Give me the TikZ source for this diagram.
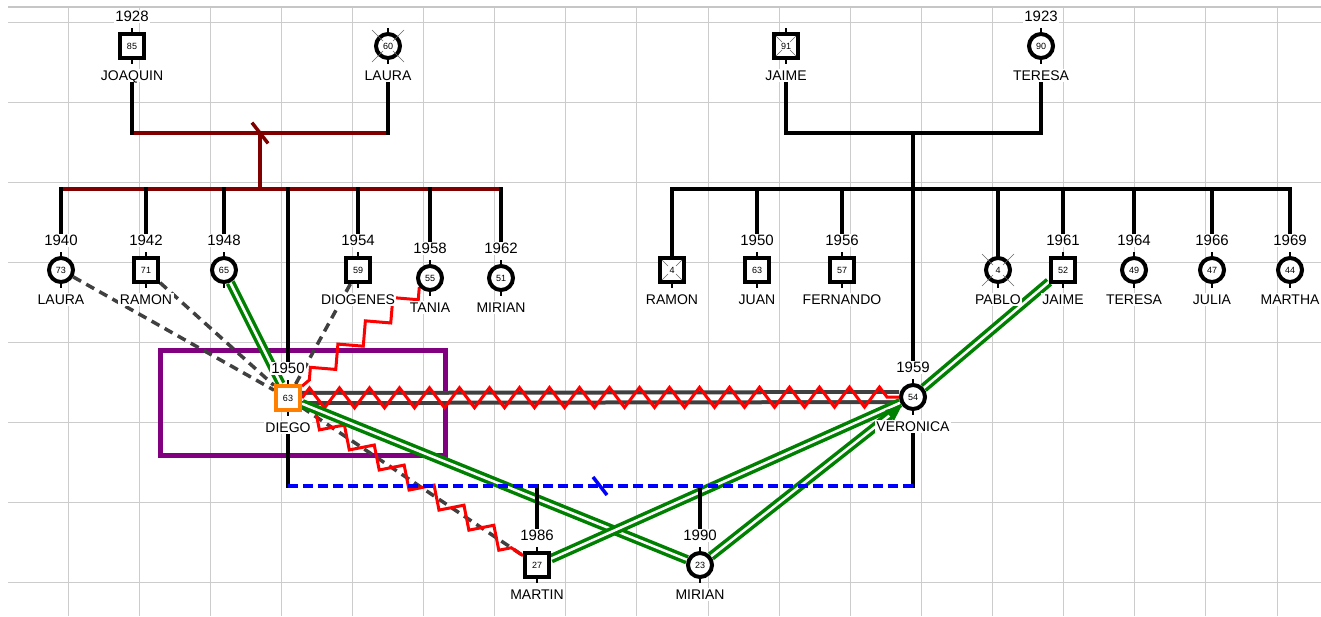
\documentclass[tikz,border=0pt]{standalone}
\usepackage{fontspec}
\usepackage{tikz}
\usetikzlibrary{backgrounds}
\usetikzlibrary{decorations.pathmorphing}
\usetikzlibrary{arrows.meta}
\newfontfamily\lblfont{Liberation Sans}
\definecolor{maroon}{RGB}{128,0,0}
\definecolor{darkgreen}{RGB}{0,128,0}
\definecolor{relgray}{RGB}{64,64,64}
\definecolor{purp}{RGB}{128,0,128}

\begin{document}
\begin{tikzpicture}[x=1pt, y=-1pt, label distance=8.5pt,
    male/.style={draw, rectangle, line width=4pt, fill=white, minimum size=24pt, inner sep=0pt, font=\lblfont\fontsize{9}{9}\selectfont},
    female/.style={male, circle},
    yr/.style={fill=white, inner sep=1.5pt, text height=10.5pt, text depth=0pt, font=\lblfont\fontsize{15}{15}\selectfont},
    nm/.style={yr, font=\lblfont\fontsize{14}{14}\selectfont},
    stub/.style={line width=2.5pt},
    deadx/.style={draw=black!60, line width=0.6pt},
    gridline/.style={draw=gray!40, line width=1pt},
    fam/.style={line width=4pt, line cap=rect},
    famm/.style={fam, draw=maroon},
    sepline/.style={draw=blue, line width=3.5pt, dash pattern=on 10pt off 5pt},
    slash/.style={line width=3.5pt},
    close/.style={draw=darkgreen, double=white, line width=3.5pt, double distance=2.5pt},
    distant/.style={draw=relgray, line width=3.5pt, dash pattern=on 9pt off 6pt},
    conflict/.style={draw=relgray, double=white, line width=4pt, double distance=6pt},
    hostile/.style={draw=red, line width=3pt, decorate, decoration={zigzag, segment length=30pt, amplitude=10pt}},
    hostilestep/.style={draw=red, line width=3pt, decorate, decoration={zigzag, segment length=36pt, amplitude=9pt}}]
    \useasboundingbox (0,0) rectangle (1321,616);

    % grandparents
    \node[male, label={[yr,name=joaquin-y]above:1928}, label={[nm,name=joaquin-n]below:JOAQUIN}] (joaquin) at (132,46) {85};
    \node[female, label={[nm,name=lauraG-n]below:LAURA}] (lauraG) at (388,46) {60};
    \node[male, label={[nm,name=jaimeG-n]below:JAIME}] (jaimeG) at (786,46) {91};
    \node[female, label={[yr,name=teresaG-y]above:1923}, label={[nm,name=teresaG-n]below:TERESA}] (teresaG) at (1041,46) {90};

    % children of joaquin and laura
    \node[female, label={[yr,name=laura-y]above:1940}, label={[nm,name=laura-n]below:LAURA}] (laura) at (61,270) {73};
    \node[male, label={[yr,name=ramon-y]above:1942}, label={[nm,name=ramon-n]below:RAMON}] (ramon) at (146,270) {71};
    \node[female, label={[yr,name=sib65-y]above:1948}] (sib65) at (224,270) {65};
    \node[male, draw=orange, label={[yr,name=diego-y]above:1950}, label={[nm,name=diego-n]below:DIEGO}] (diego) at (288,398) {63};
    \node[male, label={[yr,name=diogenes-y]above:1954}, label={[nm,name=diogenes-n]below:DIOGENES}] (diogenes) at (358,270) {59};
    \node[female, label={[yr,name=tania-y]above:1958}, label={[nm,name=tania-n]below:TANIA}] (tania) at (430,278) {55};
    \node[female, label={[yr,name=mirianT-y]above:1962}, label={[nm,name=mirianT-n]below:MIRIAN}] (mirianT) at (501,278) {51};

    % children of jaime and teresa
    \node[male, label={[nm,name=ramonV-n]below:RAMON}] (ramonV) at (672,270) {4};
    \node[male, label={[yr,name=juan-y]above:1950}, label={[nm,name=juan-n]below:JUAN}] (juan) at (757,270) {63};
    \node[male, label={[yr,name=fernando-y]above:1956}, label={[nm,name=fernando-n]below:FERNANDO}] (fernando) at (842,270) {57};
    \node[female, label={[yr,name=veronica-y]above:1959}, label={[nm,name=veronica-n]below:VERONICA}] (veronica) at (913,397) {54};
    \node[female, label={[nm,name=pablo-n]below:PABLO}] (pablo) at (998,270) {4};
    \node[male, label={[yr,name=jaime-y]above:1961}, label={[nm,name=jaime-n]below:JAIME}] (jaime) at (1063,270) {52};
    \node[female, label={[yr,name=teresa-y]above:1964}, label={[nm,name=teresa-n]below:TERESA}] (teresa) at (1134,270) {49};
    \node[female, label={[yr,name=julia-y]above:1966}, label={[nm,name=julia-n]below:JULIA}] (julia) at (1212,270) {47};
    \node[female, label={[yr,name=martha-y]above:1969}, label={[nm,name=martha-n]below:MARTHA}] (martha) at (1290,270) {44};

    % children of diego and veronica
    \node[male, label={[yr,name=martin-y]above:1986}, label={[nm,name=martin-n]below:MARTIN}] (martin) at (537,565) {27};
    \node[female, label={[yr,name=mirian-y]above:1990}, label={[nm,name=mirian-n]below:MIRIAN}] (mirian) at (700,565) {23};

    \foreach \p in {joaquin,lauraG,jaimeG,teresaG,laura,ramon,sib65,diego,diogenes,tania,mirianT,ramonV,juan,fernando,veronica,pablo,jaime,teresa,julia,martha,martin,mirian}
        \draw[stub] (\p.north) -- ++(0,-4) (\p.south) -- ++(0,4);
    \foreach \p in {lauraG,pablo}
        \foreach \sx/\sy in {1/1,1/-1,-1/1,-1/-1}
            \draw[deadx] (\p) ++(5*\sx,5*\sy) -- ++(11*\sx,11*\sy);
    \foreach \p in {jaimeG,ramonV}
        \foreach \sx/\sy in {1/1,1/-1,-1/1,-1/-1}
            \draw[deadx] (\p) ++(4*\sx,4*\sy) -- ++(6*\sx,6*\sy);

    \begin{scope}[on background layer]
        \fill[white] (0,0) rectangle (1321,616);
        \foreach \k in {0,...,17} \draw[gridline] (68+71.12*\k,8) -- (68+71.12*\k,616);
        \foreach \k in {0,...,7} \draw[gridline] (8,22+80.14*\k) -- (1321,22+80.14*\k);
        \draw[gray!45, line width=2pt] (8,7) -- (1321,7);
        \draw[purp, line width=5pt] (160,350) rectangle (445,455);

        % relations
        \draw[conflict] (diego) -- (veronica);
        \draw[hostile] (diego) -- (veronica);
        \draw[distant] (laura) -- (diego);
        \draw[distant] (ramon) -- (diego);
        \draw[distant] (diogenes) -- (diego);
        \draw[distant] (diego) -- (martin);
        \draw[hostilestep] (tania) -- (diego);
        \draw[hostilestep] (diego) -- (martin);
        \draw[close] (sib65) -- (diego);
        \draw[close] (diego) -- (mirian);
        \draw[close] (martin) -- (veronica);
        \draw[close, -{Triangle[length=16pt,width=13pt]}] (mirian) -- (veronica);
        \draw[close] (jaime) -- (veronica);

        % family lines
        \coordinate (marL) at (260,133);
        \coordinate (sibL) at (260,189);
        \draw[famm] (joaquin |- marL) -- (lauraG |- marL);
        \draw[famm] (marL) -- (sibL);
        \draw[famm] (laura |- sibL) -- (mirianT |- sibL);
        \draw[fam] (joaquin-n) -- (joaquin |- marL);
        \draw[fam] (lauraG-n) -- (lauraG |- marL);
        \draw[famm, slash] (marL) ++(-7,-9) -- ++(14,18);
        \foreach \c in {laura,ramon,sib65,diego,diogenes,tania,mirianT}
            \draw[fam] (\c |- sibL) -- (\c-y);

        \coordinate (marR) at (913,133);
        \coordinate (sibR) at (913,189);
        \draw[fam] (jaimeG-n) -- (jaimeG |- marR) -- (teresaG |- marR) -- (teresaG-n);
        \draw[fam] (marR) -- (sibR);
        \draw[fam] (ramonV |- sibR) -- (martha |- sibR);
        \foreach \c in {juan,fernando,veronica,jaime,teresa,julia,martha}
            \draw[fam] (\c |- sibR) -- (\c-y);
        \foreach \c in {ramonV,pablo}
            \draw[fam] (\c |- sibR) -- (\c);

        \coordinate (sepDV) at (600,486);
        \draw[fam] (diego-n) -- (diego |- sepDV);
        \draw[fam] (veronica-n) -- (veronica |- sepDV);
        \foreach \c in {martin,mirian}
            \draw[fam] (\c |- sepDV) -- (\c-y);
        \draw[sepline] (diego |- sepDV) -- (veronica |- sepDV);
        \draw[blue, slash] (sepDV) ++(-7,-9) -- ++(14,18);
    \end{scope}
\end{tikzpicture}
\end{document}
